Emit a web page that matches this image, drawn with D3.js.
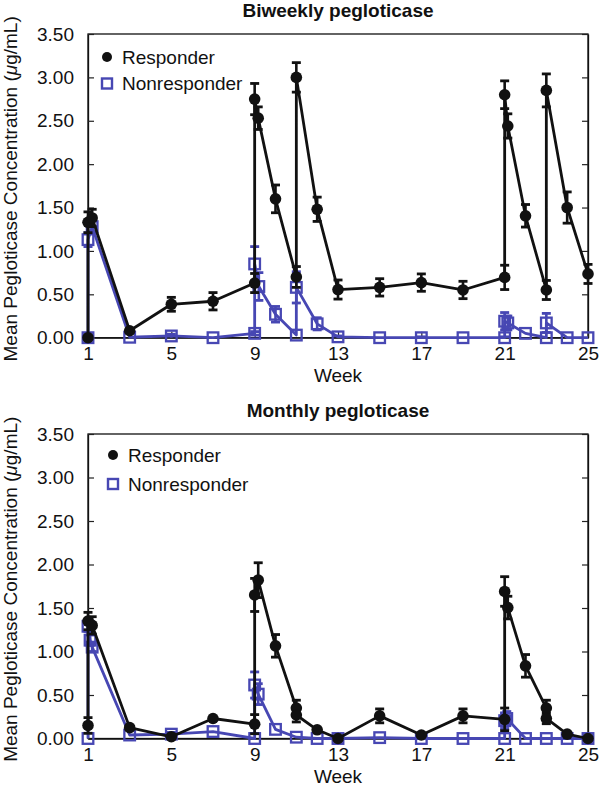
<!DOCTYPE html>
<html><head><meta charset="utf-8">
<script src="https://cdn.jsdelivr.net/npm/d3@7"></script>
<style>
body{margin:0;background:#fff;}
svg{display:block;font-family:"Liberation Sans",Arial,Helvetica,sans-serif;}
</style></head>
<body><svg id="chart" width="600" height="788"></svg>
<script>
const weekTicks = [1,5,9,13,17,21,25];
const concTicks = [0,0.5,1,1.5,2,2.5,3,3.5];
const panelTitles = ["Biweekly pegloticase","Monthly pegloticase"];
const seriesNames = ["Responder","Nonresponder"];

// Biweekly – responder
const biRespWeek = [1,1,1.2,3,5,7,9,9,9.17,10,11,11,12,13,15,17,19,21,21,21.15,22,23,23,24,25];
const biRespMean = [0,1.33,1.38,0.08,0.385,0.42,0.63,2.75,2.53,1.60,0.70,3.00,1.48,0.555,0.58,0.635,0.55,0.695,2.80,2.44,1.405,0.55,2.85,1.50,0.735];
const biRespErr  = [0,0.12,0.10,0,0.08,0.10,0.11,0.18,0.13,0.16,0.12,0.17,0.14,0.11,0.10,0.10,0.10,0.14,0.16,0.14,0.13,0.11,0.19,0.18,0.11];
// Biweekly – nonresponder
const biNonWeek = [1,1,1.2,3,5,7,9,9,9.2,10,11,11,12,13,15,17,19,21,21,21.15,22,23,23,24,25];
const biNonMean = [0,1.13,1.28,0.005,0.02,0,0.05,0.85,0.59,0.27,0.03,0.58,0.16,0.01,0,0,0,0,0.19,0.17,0.05,0,0.17,0,0];
const biNonErr  = [0,0.08,0.08,0,0.02,0,0.02,0.20,0.16,0.09,0,0.18,0.07,0.01,0,0.01,0,0.01,0.10,0.08,0,0,0.11,0,0];
// Monthly – responder
const moRespWeek = [1,1,1.2,3,5,7,9,9,9.17,10,11,11,12,13,15,17,19,21,21,21.15,22,23,23,24,25];
const moRespMean = [0.15,1.35,1.30,0.125,0.02,0.23,0.165,1.65,1.82,1.065,0.35,0.27,0.10,0,0.26,0.04,0.26,0.22,1.69,1.505,0.835,0.35,0.23,0.05,0];
const moRespErr  = [0.09,0.10,0.10,0,0.03,0,0.11,0.19,0.20,0.13,0.09,0.08,0,0.02,0.08,0.02,0.08,0.13,0.17,0.13,0.13,0.09,0.06,0,0];
// Monthly – nonresponder
const moNonWeek = [1,1,1.1,1.2,3,5,7,9,9,9.17,10,11,12,13,15,17,19,21,21,21.1,22,23,24,25];
const moNonMean = [0,1.29,1.13,1.05,0.04,0.05,0.08,0,0.615,0.51,0.105,0.015,0,0,0.01,0,0,0,0.205,0.23,0,0,0,0];
const moNonErr  = [0,0.06,0.06,0.05,0,0.02,0,0,0.15,0.12,0,0,0,0,0,0,0,0,0.09,0.08,0,0,0,0];

const BLUE = "#4747b3";
const svg = d3.select("#chart");

function series(w,m,e){ return w.map((x,i)=>({w:x,v:m[i],e:e[i]})); }

const panels = [
  {title:panelTitles[0], top:34, bottom:337.7, legX:107, legTextX:122, legY1:57, legY2:83.5,
   resp:series(biRespWeek,biRespMean,biRespErr), non:series(biNonWeek,biNonMean,biNonErr)},
  {title:panelTitles[1], top:434, bottom:738.5, legX:113, legTextX:128, legY1:455, legY2:484,
   resp:series(moRespWeek,moRespMean,moRespErr), non:series(moNonWeek,moNonMean,moNonErr)}
];

const left=88, right=588;

panels.forEach(p=>{
  const g = svg.append("g");
  const x = d3.scaleLinear().domain([1,25]).range([left,right]);
  const y = d3.scaleLinear().domain([0,3.5]).range([p.bottom,p.top]);

  g.append("rect").attr("x",left).attr("y",p.top).attr("width",right-left).attr("height",p.bottom-p.top)
    .attr("fill","none").attr("stroke","#111").attr("stroke-width",1.3);

  const ax = g.append("g").attr("transform",`translate(${left},0)`)
    .call(d3.axisLeft(y).tickValues(concTicks).tickFormat(d3.format(".2f")).tickSize(-6).tickSizeOuter(0).tickPadding(14));
  const axR = g.append("g").attr("transform",`translate(${right},0)`)
    .call(d3.axisRight(y).tickValues(concTicks).tickFormat("").tickSize(-6).tickSizeOuter(0));
  const axB = g.append("g").attr("transform",`translate(0,${p.bottom})`)
    .call(d3.axisBottom(x).tickValues(weekTicks).tickSize(-6).tickSizeOuter(0).tickPadding(9));
  [ax,axR,axB].forEach(a=>{
    a.select(".domain").attr("stroke","#111").attr("stroke-width",1.3);
    a.selectAll(".tick line").attr("stroke","#222").attr("stroke-width",1.2);
    a.selectAll("text").attr("font-size",19).attr("fill","#111").attr("font-family","Liberation Sans, Arial, sans-serif");
  });

  g.append("text").attr("x",(left+right)/2).attr("y",p.top-17).attr("text-anchor","middle")
    .attr("font-size",19).attr("font-weight","bold").attr("fill","#111").text(p.title);
  g.append("text").attr("x",(left+right)/2).attr("y",p.bottom+44).attr("text-anchor","middle")
    .attr("font-size",19).attr("fill","#111").text("Week");
  const yt = g.append("text").attr("transform",`translate(17,${(p.top+p.bottom)/2 + 3}) rotate(-90)`)
    .attr("text-anchor","middle").attr("font-size",19).attr("fill","#111");
  yt.append("tspan").text("Mean Pegloticase Concentration (");
  yt.append("tspan").attr("font-style","italic").text("\u03bc");
  yt.append("tspan").text("g/mL)");

  const line = d3.line().x(d=>x(d.w)).y(d=>y(d.v));

  function drawSeries(data,color,isSquare){
    const s = g.append("g");
    s.append("path").datum(data).attr("d",line).attr("fill","none").attr("stroke",color)
      .attr("stroke-width",2.8).attr("stroke-linejoin","round");
    const eb = s.selectAll(".eb").data(data.filter(d=>d.e>0)).enter().append("g");
    eb.append("line").attr("x1",d=>x(d.w)).attr("x2",d=>x(d.w))
      .attr("y1",d=>y(Math.max(0,d.v-d.e))).attr("y2",d=>y(d.v+d.e)).attr("stroke",color).attr("stroke-width",2.6);
    eb.append("line").attr("x1",d=>x(d.w)-4.5).attr("x2",d=>x(d.w)+4.5)
      .attr("y1",d=>y(d.v+d.e)).attr("y2",d=>y(d.v+d.e)).attr("stroke",color).attr("stroke-width",2.8);
    eb.filter(d=>d.v-d.e>0.02).append("line").attr("x1",d=>x(d.w)-4.5).attr("x2",d=>x(d.w)+4.5)
      .attr("y1",d=>y(d.v-d.e)).attr("y2",d=>y(d.v-d.e)).attr("stroke",color).attr("stroke-width",2.8);
    if(isSquare){
      s.selectAll("rect.m").data(data).enter().append("rect")
        .attr("x",d=>x(d.w)-5.3).attr("y",d=>y(d.v)-5.3).attr("width",10.6).attr("height",10.6)
        .attr("fill","none").attr("stroke",color).attr("stroke-width",2.3);
    } else {
      s.selectAll("circle.m").data(data).enter().append("circle")
        .attr("cx",d=>x(d.w)).attr("cy",d=>y(d.v)).attr("r",5.8).attr("fill",color);
    }
  }
  drawSeries(p.non,BLUE,true);
  drawSeries(p.resp,"#111",false);

  g.append("circle").attr("cx",p.legX).attr("cy",p.legY1).attr("r",5).attr("fill","#111");
  g.append("text").attr("x",p.legTextX).attr("y",p.legY1).attr("dy","0.35em").attr("font-size",19).attr("fill","#111").text(seriesNames[0]);
  g.append("rect").attr("x",p.legX-5).attr("y",p.legY2-5).attr("width",10).attr("height",10)
    .attr("fill","none").attr("stroke",BLUE).attr("stroke-width",2.4);
  g.append("text").attr("x",p.legTextX).attr("y",p.legY2).attr("dy","0.35em").attr("font-size",19).attr("fill","#111").text(seriesNames[1]);
});
</script></body></html>
